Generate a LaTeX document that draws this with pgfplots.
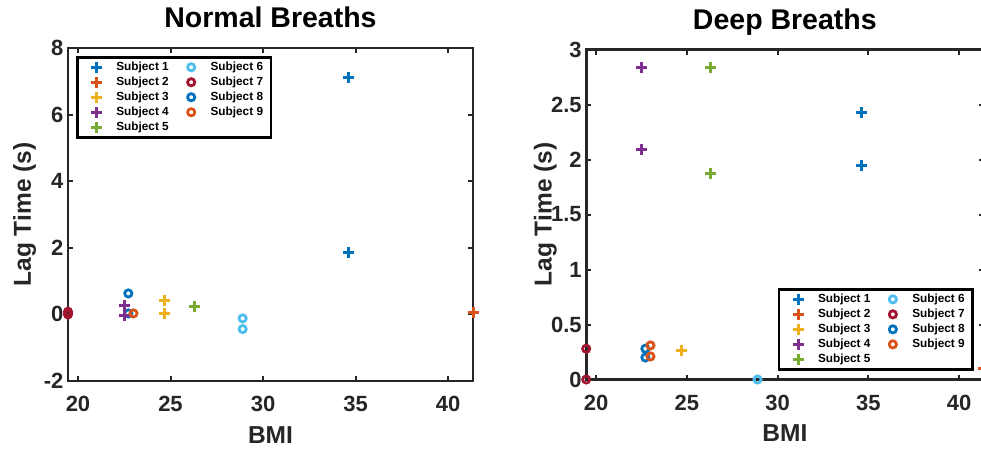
\documentclass[border=0pt]{standalone}
\usepackage{pgfplots}
\pgfplotsset{compat=1.18}
\usepackage{fontspec}
\setmainfont{Liberation Sans}
\definecolor{c1}{rgb}{0,0.447,0.741}
\definecolor{c2}{rgb}{0.85,0.325,0.098}
\definecolor{c3}{rgb}{0.929,0.694,0.125}
\definecolor{c4}{rgb}{0.494,0.184,0.556}
\definecolor{c5}{rgb}{0.466,0.674,0.188}
\definecolor{c6}{rgb}{0.301,0.745,0.933}
\definecolor{c7}{rgb}{0.635,0.078,0.184}
\definecolor{axc}{rgb}{0.15,0.15,0.15}
\pgfplotsset{
  mlab/.style={
    scale only axis, clip=false,
    axis line style={line width=2.6pt, color=axc},
    every tick/.style={line width=2pt, color=axc},
    tick align=inside, major tick length=5pt,
    xtick pos=both, ytick pos=both,
    ticklabel style={font=\fontsize{22}{22}\selectfont\bfseries, color=axc},
    xticklabel style={yshift=-12pt},
    yticklabel style={xshift=-1pt},
    /pgf/number format/assume math mode=true,
    xmin=19.46, xmax=41.35, xtick={20,25,30,35,40},
    xlabel={BMI}, ylabel={Lag Time (s)},
    label style={font=\fontsize{24.5}{25}\selectfont\bfseries, color=axc},
    xlabel style={at={(axis description cs:0.5,-0.189)}, anchor=base},
    ylabel style={anchor=center, rotate=0},
    title style={font=\fontsize{28.5}{29}\selectfont\bfseries, anchor=base, yshift=-6pt},
    legend columns=2, legend cell align=left,
    legend image code/.code={%
      \path (0pt,0pt) (22pt,0pt);
      \draw[mark repeat=2,mark phase=2,##1] plot coordinates {(0pt,0pt) (11pt,0pt) (22pt,0pt)};},
    legend style={draw=black, line width=2.5pt, fill=white,
      font=\fontsize{11.8}{13}\selectfont\bfseries,
      nodes={inner sep=1pt, text height=8.5pt, text depth=2.5pt},
      /tikz/every odd column/.append style={column sep=6pt},
      /tikz/every even column/.append style={column sep=9pt},
      row sep=2pt, inner xsep=7pt, inner ysep=3.5pt},
  },
  pl/.style={only marks, mark=+, mark size=5.5pt, line width=3pt, color=#1},
  ci/.style={only marks, mark=o, mark size=3.6pt, line width=2.8pt, color=#1},
}
\begin{document}
\begin{tikzpicture}
\path[use as bounding box] (0pt,0pt) rectangle (981pt,448pt);
\begin{scope}
\clip (0pt,0pt) rectangle (981pt,448pt);
\begin{axis}[mlab, at={(68pt,67pt)}, anchor=south west, width=405pt, height=333pt,
  ymin=-2, ymax=8, ytick={-2,0,2,4,6,8}, title={Normal Breaths},
  title style={at={(axis description cs:0.5,1.063)}},
  ylabel style={at={(axis description cs:-0.107,0.5)}},
  legend style={at={(axis description cs:0.02,0.976)}, anchor=north west}]
\addplot[pl=c1] coordinates {(34.6,1.85) (34.6,7.1)};
\addlegendentry{Subject 1}
\addplot[ci=c6] coordinates {(28.9,-0.12) (28.9,-0.44)};
\addlegendentry{Subject 6}
\addplot[pl=c2] coordinates {(41.35,0.05)};
\addlegendentry{Subject 2}
\addplot[ci=c7] coordinates {(19.46,0.0) (19.46,0.08)};
\addlegendentry{Subject 7}
\addplot[pl=c3] coordinates {(24.7,0.41) (24.7,0.03)};
\addlegendentry{Subject 3}
\addplot[ci=c1] coordinates {(22.72,0.63) (22.72,0.03)};
\addlegendentry{Subject 8}
\addplot[pl=c4] coordinates {(22.5,0.28) (22.5,-0.02)};
\addlegendentry{Subject 4}
\addplot[ci=c2] coordinates {(23.0,0.03)};
\addlegendentry{Subject 9}
\addplot[pl=c5] coordinates {(26.3,0.25)};
\addlegendentry{Subject 5}
\end{axis}
\begin{axis}[mlab, at={(586.2pt,68.5pt)}, anchor=south west, width=397.3pt, height=330pt,
  ymin=0, ymax=3, ytick={0,0.5,1,1.5,2,2.5,3}, title={Deep Breaths},
  title style={at={(axis description cs:0.5,1.06)}},
  ylabel style={at={(axis description cs:-0.103,0.5)}},
  legend style={at={(axis description cs:0.976,0.027)}, anchor=south east}]
\addplot[pl=c1] coordinates {(34.6,2.43) (34.6,1.95)};
\addlegendentry{Subject 1}
\addplot[ci=c6] coordinates {(28.9,0)};
\addlegendentry{Subject 6}
\addplot[pl=c2] coordinates {(41.35,0.1)};
\addlegendentry{Subject 2}
\addplot[ci=c7] coordinates {(19.46,0.28) (19.46,0)};
\addlegendentry{Subject 7}
\addplot[pl=c3] coordinates {(24.7,0.26)};
\addlegendentry{Subject 3}
\addplot[ci=c1] coordinates {(22.72,0.28) (22.72,0.2)};
\addlegendentry{Subject 8}
\addplot[pl=c4] coordinates {(22.5,2.84) (22.5,2.09)};
\addlegendentry{Subject 4}
\addplot[ci=c2] coordinates {(23.0,0.31) (23.0,0.21)};
\addlegendentry{Subject 9}
\addplot[pl=c5] coordinates {(26.3,2.84) (26.3,1.87)};
\addlegendentry{Subject 5}
\end{axis}
\end{scope}
\end{tikzpicture}
\end{document}
